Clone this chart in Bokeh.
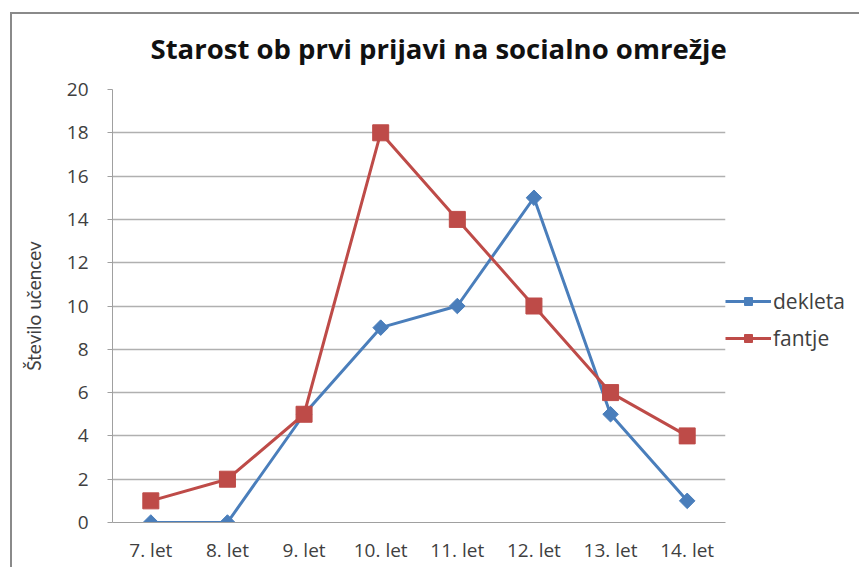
import math
from bokeh.plotting import figure
from bokeh.models import (FactorRange, Range1d, Legend, LegendItem, SingleIntervalTicker,
                          Title)
from bokeh.embed import file_html
from bokeh.resources import INLINE

categories = ["7. let", "8. let", "9. let", "10. let", "11. let", "12. let", "13. let", "14. let"]
dekleta = [0, 0, 5, 9, 10, 15, 5, 1]
fantje = [1, 2, 5, 18, 14, 10, 6, 4]
title_text = "Starost ob prvi prijavi na socialno omrežje"
y_label = "Število učencev"

FONT = "Open Sans"
TXT = "#404040"

p = figure(frame_width=613, frame_height=433, x_range=FactorRange(*categories, range_padding=0),
           y_range=Range1d(0, 20), output_backend="svg", toolbar_location=None,
           min_border_left=112, min_border_right=120, min_border_top=89, min_border_bottom=45)
p.border_fill_color = None
p.background_fill_color = "white"
p.outline_line_color = None
p.styles = {"box-shadow": "inset 10px 12px 0 0 #ffffff, inset 12px 14px 0 0 #8a8a8a"}

t = Title(text=title_text, align="left", offset=38, text_font=FONT, text_font_size="27.5px",
          text_font_style="bold", text_color="#111111", standoff=46)
p.add_layout(t, "above")

p.xgrid.grid_line_color = None
p.ygrid.grid_line_color = "#b0b0b0"
p.ygrid.grid_line_width = 1.3
p.yaxis.ticker = SingleIntervalTicker(interval=2)
p.yaxis.axis_line_color = "#a0a0a0"
p.yaxis.major_tick_line_color = "#a0a0a0"
p.yaxis.major_tick_out = 5
p.yaxis.major_tick_in = 0
p.yaxis.minor_tick_line_color = None
p.yaxis.major_label_text_font = FONT
p.yaxis.major_label_text_font_size = "19px"
p.yaxis.major_label_text_color = TXT
p.yaxis.major_label_standoff = 19
p.yaxis.axis_label = y_label
p.yaxis.axis_label_text_font = "Lato"
p.yaxis.axis_label_text_font_size = "19px"
p.yaxis.axis_label_text_font_style = "normal"
p.yaxis.axis_label_text_color = TXT
p.yaxis.axis_label_standoff = 19

p.xaxis.axis_line_color = "#a0a0a0"
p.xaxis.major_tick_line_color = None
p.xaxis.minor_tick_line_color = None
p.xaxis.major_label_text_font = FONT
p.xaxis.major_label_text_font_size = "19px"
p.xaxis.major_label_text_color = TXT
p.xaxis.major_label_standoff = 8

BLUE = "#4a7ebb"
RED = "#be4b48"
l1 = p.line(categories, dekleta, line_color=BLUE, line_width=3)
s1 = p.scatter(categories, dekleta, marker="square", angle=math.pi / 4, size=11,
               fill_color=BLUE, line_color=BLUE)
l2 = p.line(categories, fantje, line_color=RED, line_width=3)
s2 = p.scatter(categories, fantje, marker="square", size=16, fill_color=RED, line_color=RED)

legend = Legend(items=[LegendItem(label="dekleta", renderers=[l1, s1]),
                       LegendItem(label="fantje", renderers=[l2, s2])],
                location="center_left", orientation="vertical",
                title=" ", title_text_font_size="8px", title_standoff=18,
                glyph_width=46, glyph_height=20, label_standoff=2, spacing=9,
                padding=0, margin=0, border_line_color=None, background_fill_color=None,
                label_text_font=FONT, label_text_font_size="21px", label_text_color=TXT)
p.add_layout(legend, "right")

open("out.html", "w").write(file_html(p, INLINE))
